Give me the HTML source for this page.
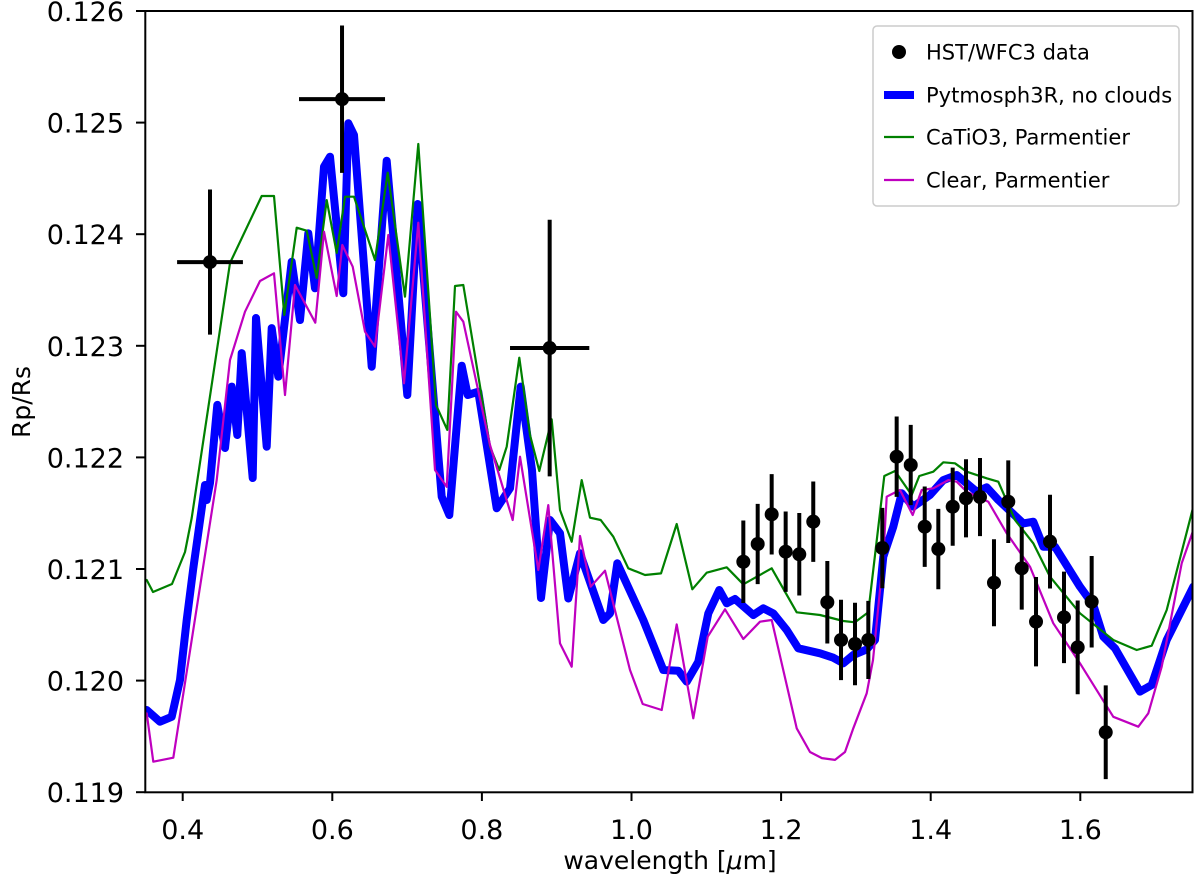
<!DOCTYPE html>
<html><head><meta charset="utf-8"><style>
html,body{margin:0;padding:0;background:#fff;}
svg{display:block;font-family:"DejaVu Sans","Liberation Sans",sans-serif;}
</style></head><body>
<svg id="chart" width="1200" height="883" viewBox="0 0 1200 883" xmlns="http://www.w3.org/2000/svg">
<defs><clipPath id="plotclip"><rect x="145.3" y="11" width="1047.2" height="781.3"/></clipPath></defs>
<g id="grid"></g>
<g id="series" clip-path="url(#plotclip)"></g>
<g id="points"></g>
<rect x="145.3" y="11" width="1047.2" height="781.3" fill="none" stroke="#000" stroke-width="2"/>
<g id="legend"></g>
<text x="670" y="869" font-size="25" text-anchor="middle">wavelength [<tspan font-style="italic">μ</tspan>m]</text>
<text transform="translate(30,402) rotate(-90)" font-size="25" text-anchor="middle">Rp/Rs</text>
</svg>
<script>
const xTicks = [0.4,0.6,0.8,1.0,1.2,1.4,1.6];
const xTickLabels = ["0.4","0.6","0.8","1.0","1.2","1.4","1.6"];
const yTicks = [0.119,0.120,0.121,0.122,0.123,0.124,0.125,0.126];
const yTickLabels = ["0.119","0.120","0.121","0.122","0.123","0.124","0.125","0.126"];

const blueX = [0.3519,0.3697,0.3853,0.3964,0.4053,0.4142,0.4298,0.4321,0.4365,0.4463,0.4566,0.4655,0.4730,0.4789,0.4936,0.4980,0.5123,0.5190,0.5278,0.5457,0.5568,0.5679,0.5769,0.5889,0.5969,0.6147,0.6214,0.6290,0.6527,0.6727,0.7003,0.7142,0.7463,0.7564,0.7730,0.7810,0.7952,0.8198,0.8376,0.8519,0.8670,0.8790,0.8910,0.9044,0.9155,0.9311,0.9623,0.9712,0.9810,1.0158,1.0425,1.0626,1.0738,1.0893,1.1027,1.1174,1.1273,1.1384,1.1628,1.1762,1.1896,1.2075,1.2230,1.2520,1.2698,1.2832,1.2965,1.3144,1.3255,1.3366,1.3500,1.3612,1.3767,1.3991,1.4168,1.4348,1.4615,1.4749,1.4904,1.5238,1.5372,1.5505,1.5662,1.5996,1.6174,1.6308,1.6464,1.6798,1.6954,1.7155,1.7511];
const blueY = [0.119737,0.119632,0.119676,0.120005,0.120543,0.121006,0.121753,0.121618,0.121771,0.12247,0.122084,0.122634,0.122201,0.122935,0.121815,0.123249,0.122096,0.123159,0.122723,0.123754,0.123231,0.124008,0.123515,0.124605,0.124694,0.12347,0.124994,0.124889,0.122813,0.124659,0.122559,0.124271,0.121648,0.121484,0.122822,0.122559,0.122589,0.121544,0.121723,0.122634,0.121887,0.12074,0.121439,0.12132,0.120736,0.121141,0.120543,0.120602,0.121051,0.120543,0.120095,0.120089,0.11999,0.120169,0.120602,0.120812,0.120693,0.120731,0.120588,0.120648,0.120602,0.120453,0.120289,0.120245,0.120205,0.120155,0.120229,0.12028,0.120364,0.12111,0.121379,0.121678,0.121558,0.121663,0.121797,0.121842,0.121693,0.121732,0.121618,0.121409,0.121424,0.1212,0.1212,0.120841,0.120677,0.120393,0.120289,0.119901,0.119961,0.120364,0.120841];

const greenX = [0.3519,0.3603,0.3857,0.4031,0.4120,0.4632,0.5056,0.5221,0.5358,0.5524,0.5658,0.5791,0.5925,0.6059,0.6170,0.6290,0.6571,0.6741,0.6972,0.7150,0.7386,0.7537,0.7640,0.7751,0.8108,0.8233,0.8332,0.8500,0.8643,0.8767,0.8933,0.9044,0.9200,0.9334,0.9445,0.9588,0.9757,0.9957,1.0180,1.0394,1.0604,1.0813,1.1005,1.1273,1.1495,1.1874,1.2208,1.2520,1.2832,1.2988,1.3166,1.3380,1.3523,1.3746,1.3848,1.4035,1.4168,1.4325,1.4481,1.4749,1.4904,1.5127,1.5372,1.5595,1.5996,1.6441,1.6754,1.6954,1.7155,1.7511];
const greenY = [0.120901,0.120794,0.120866,0.121152,0.121457,0.123742,0.124342,0.124342,0.123276,0.124058,0.124031,0.123608,0.124306,0.123832,0.124336,0.124336,0.123769,0.124551,0.12344,0.124808,0.12247,0.122246,0.123536,0.123545,0.122096,0.121887,0.122096,0.122893,0.122201,0.121878,0.122341,0.121529,0.121245,0.121797,0.12146,0.121439,0.121289,0.121006,0.120946,0.120961,0.121403,0.120818,0.120967,0.121015,0.120863,0.121006,0.120612,0.120588,0.120534,0.120522,0.120612,0.121833,0.121878,0.121663,0.121833,0.121872,0.121956,0.121947,0.121872,0.121813,0.121782,0.121439,0.12123,0.120931,0.120603,0.120364,0.120274,0.120313,0.120633,0.121558];

const magentaX = [0.3519,0.3607,0.3874,0.4455,0.4632,0.4833,0.5033,0.5221,0.5368,0.5501,0.5773,0.5889,0.6059,0.6134,0.6273,0.6437,0.6571,0.6749,0.6959,0.7150,0.7373,0.7529,0.7654,0.7751,0.8108,0.8412,0.8509,0.8754,0.8888,0.9044,0.9200,0.9311,0.9454,0.9646,0.9980,1.0150,1.0404,1.0604,1.0826,1.1019,1.1250,1.1495,1.1718,1.1874,1.2208,1.2386,1.2546,1.2721,1.2854,1.2965,1.3144,1.3229,1.3366,1.3412,1.3589,1.3759,1.3880,1.4035,1.4235,1.4348,1.4481,1.4770,1.5016,1.5327,1.5639,1.5996,1.6441,1.6775,1.6909,1.7088,1.7355,1.7511];
const magentaY = [0.119707,0.119273,0.119309,0.121797,0.122873,0.123306,0.123581,0.12365,0.122559,0.123545,0.123207,0.124022,0.123446,0.123903,0.123709,0.123126,0.122992,0.123993,0.122664,0.124103,0.121887,0.121737,0.123306,0.123216,0.122111,0.121439,0.122006,0.120991,0.121573,0.120333,0.120125,0.121296,0.120841,0.120985,0.120095,0.11979,0.119737,0.120504,0.119662,0.120393,0.120639,0.120373,0.120528,0.120543,0.119573,0.11936,0.119306,0.119289,0.11936,0.119573,0.119886,0.120185,0.12111,0.121648,0.121708,0.121484,0.121708,0.121723,0.121797,0.121782,0.121693,0.121603,0.12132,0.121021,0.120513,0.120155,0.119676,0.119587,0.119707,0.120125,0.121051,0.121349];

const bigX = [0.4365,0.613,0.8906];
const bigY = [0.12375,0.12521,0.12298];
const bigXerr = [0.044,0.0575,0.053];
const bigYerr = [0.00065,0.00066,0.00115];

const wfcX = [1.1495,1.1687,1.1874,1.2061,1.2243,1.2430,1.2618,1.2801,1.2988,1.3166,1.3353,1.3545,1.3733,1.3920,1.4102,1.4294,1.4472,1.4659,1.4846,1.5037,1.5217,1.5408,1.5595,1.5782,1.5965,1.6152,1.6340];
const wfcY = [0.121065,0.121224,0.12149,0.121155,0.121132,0.121424,0.120702,0.120364,0.120328,0.120364,0.121188,0.122006,0.121932,0.121379,0.121179,0.121558,0.121633,0.121645,0.120877,0.121603,0.121006,0.120528,0.121245,0.120567,0.120298,0.120707,0.119537];
const wfcErr = [0.00037,0.00036,0.00036,0.00036,0.00037,0.00036,0.00037,0.00036,0.00037,0.00035,0.00036,0.00036,0.00036,0.00036,0.00036,0.00035,0.00035,0.00035,0.00039,0.00037,0.00037,0.0004,0.00042,0.00041,0.00042,0.00041,0.00042];

const X0=145.3, XS=748, Y0=11, YS=111600;
function sx(v){return X0+(v-0.35)*XS;}
function sy(v){return Y0+(0.126-v)*YS;}
const NS="http://www.w3.org/2000/svg";
function mk(tag,attrs,parent){const e=document.createElementNS(NS,tag);for(const k in attrs)e.setAttribute(k,attrs[k]);parent.appendChild(e);return e;}

const grid=document.getElementById('grid');
xTicks.forEach((t,i)=>{
  const l=mk('line',{x1:sx(t),x2:sx(t),y1:792.3,y2:801,stroke:'#000','stroke-width':2},grid);
  
  
  const tx=mk('text',{x:sx(t),y:839,'font-size':27,'text-anchor':'middle'},grid);
  tx.textContent=xTickLabels[i];
  
  
});
yTicks.forEach((t,i)=>{
  const l=mk('line',{x1:136,x2:145.3,y1:sy(t),y2:sy(t),stroke:'#000','stroke-width':2},grid);
  
  
  const tx=mk('text',{x:124,y:sy(t)+10,'font-size':27,'text-anchor':'end'},grid);
  tx.textContent=yTickLabels[i];
  
  
});

const series=document.getElementById('series');
function line(xs,ys,color,w,name){
  const d=xs.map((x,i)=>(i?'L':'M')+sx(x).toFixed(1)+' '+sy(ys[i]).toFixed(1)).join(' ');
  const p=mk('path',{d:d,fill:'none',stroke:color,'stroke-width':w,'stroke-linejoin':'round','stroke-linecap':'round'},series);
  
  
}
line(blueX,blueY,'#0000ff',8,'pytmosph3r-line');
line(greenX,greenY,'#008000',2.2,'catio3-parmentier-line');
line(magentaX,magentaY,'#bf00bf',2.2,'clear-parmentier-line');

const pts=document.getElementById('points');
bigX.forEach((x,i)=>{
  const a=mk('line',{x1:sx(x-bigXerr[i]),x2:sx(x+bigXerr[i]),y1:sy(bigY[i]),y2:sy(bigY[i]),stroke:'#000','stroke-width':4},pts);
  
  
  const b=mk('line',{x1:sx(x),x2:sx(x),y1:sy(bigY[i]-bigYerr[i]),y2:sy(bigY[i]+bigYerr[i]),stroke:'#000','stroke-width':4},pts);
  
  
  const c=mk('circle',{cx:sx(x),cy:sy(bigY[i]),r:7,fill:'#000'},pts);
  
  
});
wfcX.forEach((x,i)=>{
  const b=mk('line',{x1:sx(x),x2:sx(x),y1:sy(wfcY[i]-wfcErr[i]),y2:sy(wfcY[i]+wfcErr[i]),stroke:'#000','stroke-width':4},pts);
  
  
  const c=mk('circle',{cx:sx(x),cy:sy(wfcY[i]),r:7,fill:'#000'},pts);
  
  
});

const lg=document.getElementById('legend');
const box=mk('rect',{x:873,y:26,width:306,height:180,rx:4,fill:'#fff',stroke:'#ccc','stroke-width':1.5},lg);


const labels=["HST/WFC3 data","Pytmosph3R, no clouds","CaTiO3, Parmentier","Clear, Parmentier"];
const ly=[52,95,137,180];
labels.forEach((t,i)=>{
  if(i===0){
    const c=mk('circle',{cx:899,cy:ly[i],r:7,fill:'#000'},lg);
    
    
  } else {
    const cols=['','#0000ff','#008000','#bf00bf'];
    const ws=[0,8,2.2,2.2];
    const l=mk('line',{x1:884,x2:914,y1:ly[i],y2:ly[i],stroke:cols[i],'stroke-width':ws[i]},lg);
    
    
  }
  const tx=mk('text',{x:926,y:ly[i]+7.5,'font-size':21},lg);
  tx.textContent=t;
  
  
});
</script>
</body></html>
